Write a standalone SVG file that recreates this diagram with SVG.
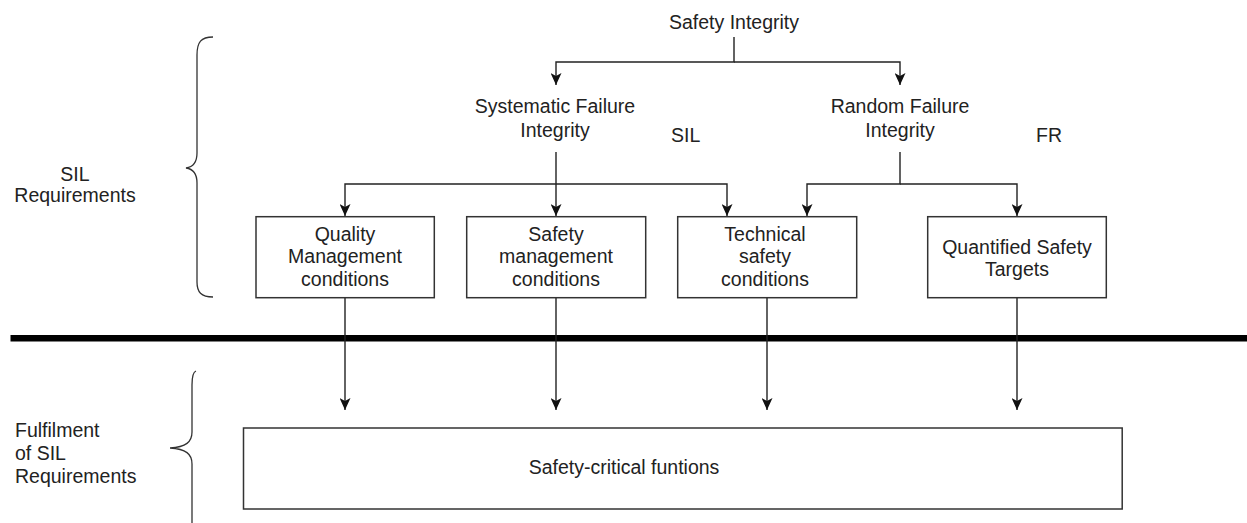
<svg xmlns="http://www.w3.org/2000/svg" width="1247" height="523" viewBox="0 0 1247 523">
  <style>
    text { font-family: "Liberation Sans", Arial, sans-serif; font-size: 19.5px; fill: #222; }
    .c { text-anchor: middle; }
    .box { fill: #fff; stroke: #333; stroke-width: 1.5; }
    .edge { fill: none; stroke: #222; stroke-width: 1.4; }
    .arrow { fill: none; stroke: #222; stroke-width: 1.4; marker-end: url(#head); }
    .brace { fill: none; stroke: #333; stroke-width: 1.3; }
  </style>
  <defs>
    <marker id="head" viewBox="0 0 12 11" refX="12" refY="5.5" markerWidth="12" markerHeight="11" markerUnits="userSpaceOnUse" orient="auto">
      <path d="M0,0 L12,5.5 L0,11 L3,5.5 z" fill="#111"/>
    </marker>
  </defs>
  <rect width="1247" height="523" fill="#fff"/>

  <!-- side labels and braces -->
  <g id="sil-requirements">
    <path class="brace" d="M213,37 C201,37 197,42 197,55 L197,153 C197,162 193,167 186,168 C193,169 197,174 197,183 L197,282 C197,292 201,297 213,297"/>
    <text class="c" x="75" y="180.5">SIL</text>
    <text class="c" x="75" y="202">Requirements</text>
  </g>
  <g id="fulfilment">
    <path class="brace" d="M196,371 C193,372 192,376 192,385 L192,432 C192,442 186,447 170,448 C186,449 192,454 192,464 L192,530"/>
    <text x="15" y="437">Fulfilment</text>
    <text x="15" y="460">of SIL</text>
    <text x="15" y="483">Requirements</text>
  </g>

  <!-- separator -->
  <line x1="10.5" y1="338.3" x2="1247" y2="338.3" stroke="#000" stroke-width="6.5"/>

  <!-- connectors -->
  <g id="connectors">
    <path class="arrow" d="M734,37 V62 H556 V85"/>
    <path class="arrow" d="M734,62 H900 V85"/>
    <path class="arrow" d="M556,152 V216"/>
    <path class="arrow" d="M556,184 H345 V216"/>
    <path class="arrow" d="M556,184 H727 V216"/>
    <path class="arrow" d="M900,152 V184 H807 V216"/>
    <path class="arrow" d="M900,184 H1017 V216"/>
    <path class="arrow" d="M345,298 V410"/>
    <path class="arrow" d="M556,298 V410"/>
    <path class="arrow" d="M767,298 V410"/>
    <path class="arrow" d="M1017,298 V410"/>
  </g>

  <!-- nodes -->
  <g id="safety-integrity">
    <text class="c" x="734" y="28.5">Safety Integrity</text>
  </g>
  <g id="systematic-failure">
    <text class="c" x="555" y="113">Systematic Failure</text>
    <text class="c" x="555" y="136.5">Integrity</text>
  </g>
  <g id="random-failure">
    <text class="c" x="900" y="113">Random Failure</text>
    <text class="c" x="900" y="136.5">Integrity</text>
  </g>
  <g id="sil-label">
    <text x="671" y="141.5">SIL</text>
  </g>
  <g id="fr-label">
    <text x="1036" y="141.5">FR</text>
  </g>
  <g id="quality-management">
    <rect class="box" x="256" y="216.7" width="178.3" height="81"/>
    <text class="c" x="345" y="240.5">Quality</text>
    <text class="c" x="345" y="263">Management</text>
    <text class="c" x="345" y="285.5">conditions</text>
  </g>
  <g id="safety-management">
    <rect class="box" x="466.7" y="216.7" width="179" height="81"/>
    <text class="c" x="556" y="240.5">Safety</text>
    <text class="c" x="556" y="263">management</text>
    <text class="c" x="556" y="285.5">conditions</text>
  </g>
  <g id="technical-safety">
    <rect class="box" x="677.7" y="216.7" width="179" height="81"/>
    <text class="c" x="765" y="240.5">Technical</text>
    <text class="c" x="765" y="263">safety</text>
    <text class="c" x="765" y="285.5">conditions</text>
  </g>
  <g id="quantified-targets">
    <rect class="box" x="927.7" y="216.7" width="178.6" height="81"/>
    <text class="c" x="1017" y="253.5">Quantified Safety</text>
    <text class="c" x="1017" y="275.5">Targets</text>
  </g>
  <g id="safety-critical-functions">
    <rect class="box" x="243.5" y="428" width="878.7" height="81"/>
    <text class="c" x="624" y="474">Safety-critical funtions</text>
  </g>
</svg>
